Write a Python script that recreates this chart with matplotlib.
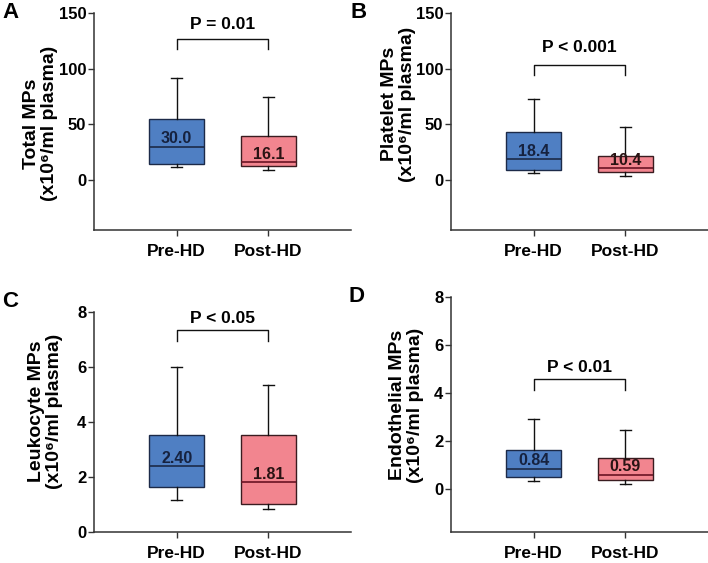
import matplotlib
matplotlib.use("Agg")
import matplotlib.pyplot as plt

plt.rcParams['font.family'] = ['Liberation Sans', 'DejaVu Sans']
plt.rcParams['font.weight'] = 'bold'

groups = ["Pre-HD", "Post-HD"]

# box stats per panel: [Pre-HD, Post-HD]
total_low = [11.5, 9.0]
total_q1 = [14.2, 12.5]
total_med = [30.0, 16.1]
total_q3 = [54.8, 39.5]
total_high = [91.5, 74.8]

plt_low = [6.0, 3.2]
plt_q1 = [8.8, 6.8]
plt_med = [18.4, 10.4]
plt_q3 = [43.5, 21.9]
plt_high = [73.0, 47.7]

leu_low = [1.18, 0.82]
leu_q1 = [1.64, 1.02]
leu_med = [2.40, 1.81]
leu_q3 = [3.52, 3.52]
leu_high = [6.0, 5.33]

endo_low = [0.32, 0.22]
endo_q1 = [0.49, 0.35]
endo_med = [0.84, 0.59]
endo_q3 = [1.60, 1.28]
endo_high = [2.90, 2.44]

median_labels = {
    "A": ["30.0", "16.1"],
    "B": ["18.4", "10.4"],
    "C": ["2.40", "1.81"],
    "D": ["0.84", "0.59"],
}

p_texts = ["P = 0.01", "P < 0.001", "P < 0.05", "P < 0.01"]
ylabels = ["Total MPs", "Platelet MPs", "Leukocyte MPs", "Endothelial MPs"]
unit_label = "(x10\u2076/ml plasma)"

face_cols = ["#4f7fc3", "#f2858f"]
edge_cols = ["#1c2a48", "#3a1c20"]
med_cols = ["#1c2a48", "#6a1424"]
txt_cols = ["#16223f", "#2a1414"]

# panel layout in figure fractions
panels = [
    dict(key="A", rect=[0.1328, 0.5915, 0.363, 0.3854], ylim=(-45, 150), yticks=[0, 50, 100, 150],
         stats=(total_low, total_q1, total_med, total_q3, total_high), br=(118, 127, 139.5),
         lab=(-0.14, 0.49)),
    dict(key="B", rect=[0.637, 0.5915, 0.363, 0.3854], ylim=(-45, 150), yticks=[0, 50, 100, 150],
         stats=(plt_low, plt_q1, plt_med, plt_q3, plt_high), br=(94.6, 103.6, 118.6),
         lab=(-0.136, 0.58)),
    dict(key="C", rect=[0.1328, 0.0551, 0.363, 0.3907], ylim=(0, 8), yticks=[0, 2, 4, 6, 8],
         stats=(leu_low, leu_q1, leu_med, leu_q3, leu_high), br=(6.95, 7.35, 7.77),
         lab=(-0.12, 0.55)),
    dict(key="D", rect=[0.637, 0.0551, 0.363, 0.4174], ylim=(-1.8, 8), yticks=[0, 2, 4, 6, 8],
         stats=(endo_low, endo_q1, endo_med, endo_q3, endo_high), br=(4.13, 4.58, 5.04),
         lab=(-0.105, 0.54)),
]
letter_pos = {"A": (2, 2), "B": (350, 2), "C": (2, 291), "D": (349, 286)}

fig = plt.figure(figsize=(7.08, 5.63), dpi=100)

for i, p in enumerate(panels):
    ax = fig.add_axes(p["rect"])
    low, q1, med, q3, high = p["stats"]
    for j in range(2):
        st = [dict(whislo=low[j], q1=q1[j], med=med[j], q3=q3[j], whishi=high[j], fliers=[])]
        ax.bxp(st, positions=[j + 1], widths=0.6, patch_artist=True, showfliers=False,
               boxprops=dict(facecolor=face_cols[j], edgecolor=edge_cols[j], linewidth=1.0),
               medianprops=dict(color=med_cols[j], linewidth=1.2),
               whiskerprops=dict(color="#111111", linewidth=1.0),
               capprops=dict(color="#111111", linewidth=1.0),
               capwidths=0.12)
        ax.annotate(median_labels[p["key"]][j], (j + 1, med[j]), xytext=(0, 2.5),
                    textcoords="offset points", ha="center", va="baseline",
                    fontsize=11.5, fontweight="bold", color=txt_cols[j])

    # significance bracket
    yd, yt, ytx = p["br"]
    ax.plot([1, 1, 2, 2], [yd, yt, yt, yd], color="#111111", lw=1.0)
    ax.text(1.5, ytx, p_texts[i], ha="center", va="center", fontsize=12.5, fontweight="bold")

    ax.set_xlim(0.1, 2.9)
    ax.set_ylim(*p["ylim"])
    ax.set_yticks(p["yticks"])
    ax.set_xticks([1, 2])
    ax.set_xticklabels(groups, fontsize=12.5, fontweight="bold")
    ax.tick_params(axis="y", labelsize=12, length=4, width=1, pad=1.5, color="#333333")
    ax.tick_params(axis="x", length=4, width=1, pad=6, color="#333333")
    for s in ["top", "right"]:
        ax.spines[s].set_visible(False)
    for s in ["left", "bottom"]:
        ax.spines[s].set_color("#333333")
        ax.spines[s].set_linewidth(1.1)
    ax.spines["left"].set_bounds(p["ylim"][0], p["yticks"][-1])

    ax.set_ylabel(ylabels[i] + "\n" + unit_label, fontsize=14, fontweight="bold",
                  linespacing=1.1)
    ax.yaxis.set_label_coords(*p["lab"])

    lx, ly = letter_pos[p["key"]]
    fig.text(lx / 708, 1 - ly / 563, p["key"], fontsize=16, fontweight="bold", ha="left", va="top")

fig.savefig("out.png", dpi=100)
